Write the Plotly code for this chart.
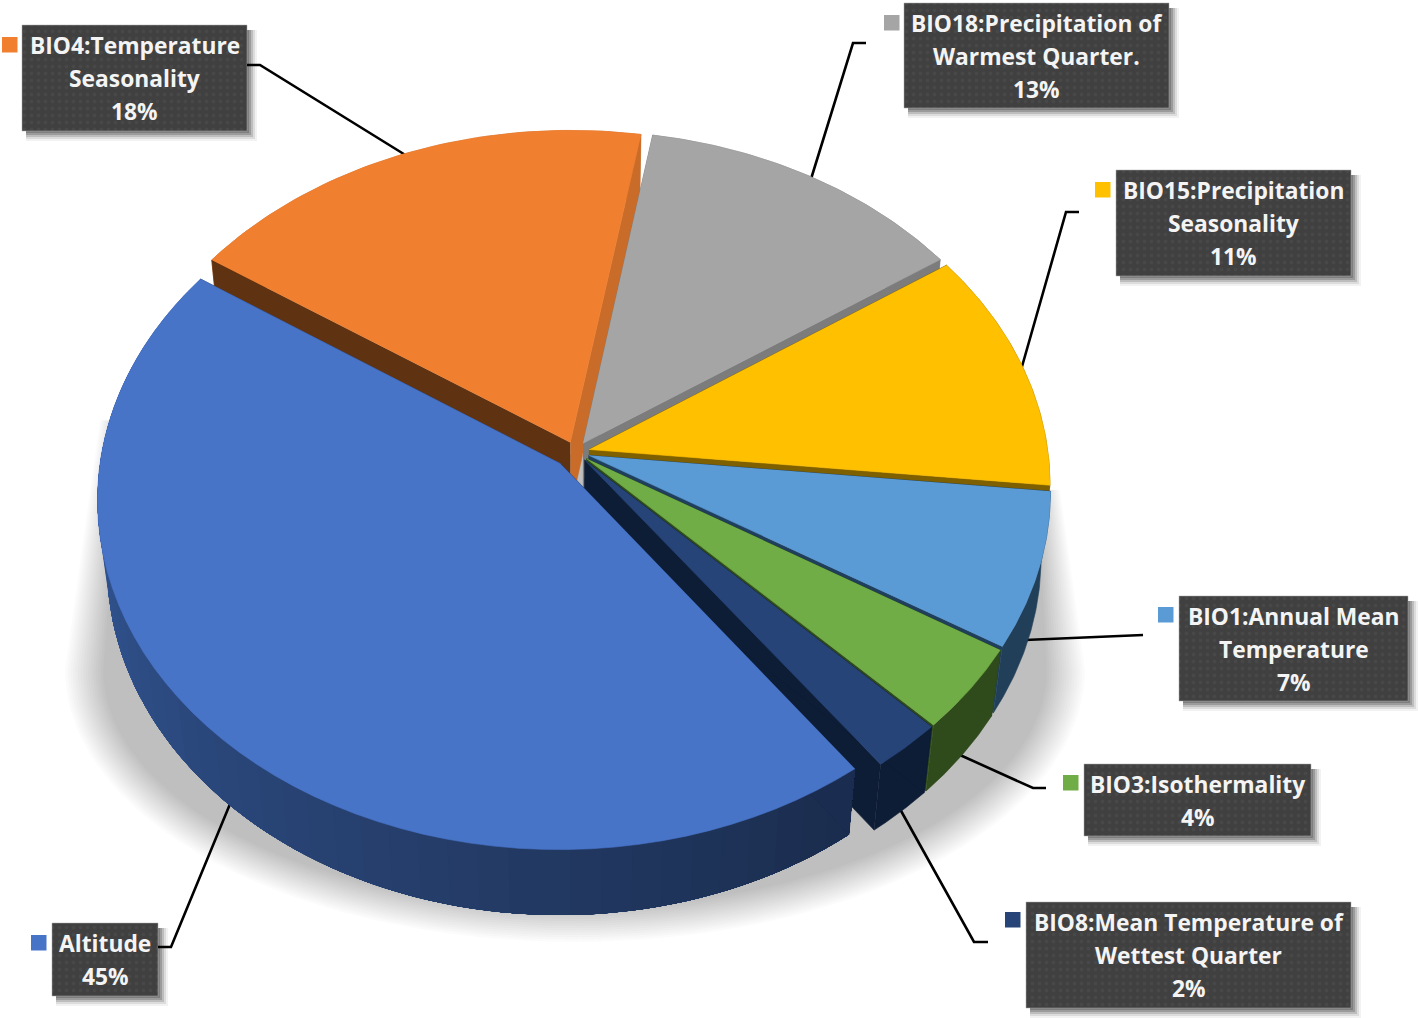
import numpy as np
import plotly.graph_objects as go

# ---- data (clockwise, beginning at the orange/grey boundary) ----
names = ["BIO18:Precipitation of<br>Warmest Quarter.", "BIO15:Precipitation<br>Seasonality",
         "BIO1:Annual Mean<br>Temperature", "BIO3:Isothermality",
         "BIO8:Mean Temperature of<br>Wettest Quarter", "Altitude", "BIO4:Temperature<br>Seasonality"]
values = [13, 11, 7, 4, 2, 45, 18]                         # printed percentages
shares = [12.75, 11.2, 7.14, 3.9, 2.28, 44.55, 18.21]      # slice sizes as measured before rounding
explode = [0.03, 0.03, 0.03, 0.03, 0.03, 0.047, 0.03]
top_colors = ["#A5A5A5", "#FFC000", "#5B9BD5", "#70AD47", "#264478", "#4874C8", "#F08030"]
rim_colors = ["#7C7C7C", "#7F6000", "#223F59", "#2F4A1B", "#0E1D36", None, "#C96C2A"]
low_wall = ["#7C7C7C", "#7F6000", "#1F3F5C", "#2F4A1B", "#0E1D36", "#1A2C50", "#C96C2A"]
high_wall = ["#7C7C7C", "#7F6000", "#1F3F5C", "#2F4A1B", "#0E1D36", "#1A2C50", "#5F3212"]
draw_order = [6, 0, 1, 2, 3, 4, 5]

# ---- label layout ----
boxes = [(904, 3, 1169, 108), (1116, 170, 1351, 276), (1179, 596, 1408, 701), (1084, 764, 1311, 836),
         (1026, 902, 1351, 1008), (52, 923, 158, 996), (22, 25, 247, 131)]
key_boxes = [(884, 15), (1095, 182), (1158, 607), (1063, 775), (1005, 912), (31, 935), (2, 37)]
leaders = [[(866, 43), (853, 43), (811, 179)], [(1079, 212), (1066, 212), (1021, 370)],
           [(1143, 635), (1025, 640)], [(1046, 788), (1033, 788), (960, 755)],
           [(988, 942), (974, 942), (900, 809)], [(158, 947), (171, 947), (230, 804)],
           [(247, 65), (260, 65), (407, 156)]]

# ---- projection of the tilted disc ----
CU, CV, F, FC, S, H, K = 575.6, 452.0, 459.0, 345.0, 0.0996, 68.0, 0.02
START = 80.3
LINE_STEP = 33


def project(X, Y, Z):
    w = 1 + S * Y + K * Z
    return CU + F * X / w, CV + (-FC * Y + H * Z) / w


fig = go.Figure()


def poly(xs, ys, color, width=0.6):
    fig.add_trace(go.Scatter(x=list(xs), y=list(ys), mode="lines", fill="toself", fillcolor=color,
                             line=dict(color=color, width=width), hoverinfo="skip", showlegend=False))


# label boxes: soft shadow to lower right, then dotted panel
for (x0, y0, x1, y1) in boxes:
    for off, alpha in ((10, 0.05), (8, 0.09), (6, 0.14), (4, 0.18), (2, 0.18)):
        xa, xb = x0 + 4, x1 + off
        ya, yb = y0 + 5, y1 + off
        fig.add_trace(go.Bar(x=[(xa + xb) / 2], y=[yb - ya], base=[ya], width=[xb - xa],
                             marker=dict(color=f"rgba(0,0,0,{alpha})", line=dict(width=0)),
                             hoverinfo="skip", showlegend=False))
    fig.add_trace(go.Bar(x=[(x0 + x1) / 2], y=[y1 - y0], base=[y0], width=[x1 - x0],
                         marker=dict(color="#404040", line=dict(color="#A8A8A8", width=0.5),
                                     pattern=dict(shape=".", fgcolor="#4F4F4F", bgcolor="#404040",
                                                  size=7, solidity=0.2)),
                         hoverinfo="skip", showlegend=False))

# floor shadow: stacked translucent outlines
for inset in np.linspace(0, 38, 16):
    t = np.radians(np.linspace(180, 360, 90))
    ex = 575 - (510 - inset) * np.cos(t - np.pi)
    ey = np.minimum(670 - (272 - inset * 0.9) * np.sin(t), 942)
    sx = np.concatenate([[100 + inset * 0.6], ex, [1060 - inset * 0.6]])
    sy = np.concatenate([[420], ey, [490]])
    poly(sx, sy, "rgba(0,0,0,0.0155)", width=0)

# leader lines sit beneath the pie
for pts in leaders:
    fig.add_trace(go.Scatter(x=[p[0] for p in pts], y=[p[1] for p in pts], mode="lines",
                             line=dict(color="#000000", width=2.6), hoverinfo="skip", showlegend=False))

# slice angles from the values
total = sum(shares)
spans = [v / total * 360 for v in shares]
ends = [START - sum(spans[:i]) for i in range(len(shares))]

for i in draw_order:
    a1 = ends[i]
    a0 = a1 - spans[i]
    b = np.radians((a0 + a1) / 2)
    ox, oy = explode[i] * np.cos(b), explode[i] * np.sin(b)
    angs = np.radians(np.linspace(a0, a1, 60))
    rx, ry = ox + np.cos(angs), oy + np.sin(angs)
    # outer rim
    if rim_colors[i] is not None:
        ux, uy = project(rx, ry, 0)
        lx, ly = project(rx, ry, 1)
        poly(np.r_[ux, lx[::-1]], np.r_[uy, ly[::-1]], rim_colors[i])
    else:
        # gradient: each band runs to the far end and the next paints over it, so no seams
        n = 46
        edges = np.linspace(a0, a1, n + 1)
        for j in range(n):
            seg = np.radians(np.linspace(edges[j], a1, max(4, 2 * (n - j))))
            sxp, syp = ox + np.cos(seg), oy + np.sin(seg)
            ux, uy = project(sxp, syp, 0)
            lx, ly = project(sxp, syp, 1)
            shade = 0.85 + (edges[j] - a0) / (a1 - a0) * (0.39 - 0.85)
            rgb = [int(c * shade) for c in (68, 114, 196)]
            poly(np.r_[ux, lx[::-1]], np.r_[uy, ly[::-1]], f"rgb({rgb[0]},{rgb[1]},{rgb[2]})", width=0)
    # radial cut walls
    for ang, col in ((a0, low_wall[i]), (a1, high_wall[i])):
        ex, ey = ox + np.cos(np.radians(ang)), oy + np.sin(np.radians(ang))
        p = [project(ox, oy, 0), project(ex, ey, 0), project(ex, ey, 1), project(ox, oy, 1)]
        poly([q[0] for q in p], [q[1] for q in p], col)
    # top face
    tx, ty = project(np.r_[ox, rx], np.r_[oy, ry], 0)
    poly(tx, ty, top_colors[i])

# labels and legend keys as real text and shapes
annotations, shapes = [], []
for i, name in enumerate(names):
    x0, y0, x1, y1 = boxes[i]
    rows = name.split("<br>") + [f"{values[i]}%"]
    for k, row in enumerate(rows):
        annotations.append(dict(x=(x0 + x1) / 2, y=(y0 + y1) / 2 + (k - (len(rows) - 1) / 2) * LINE_STEP + 0.5,
                                xref="x", yref="y", showarrow=False, text=row, align="center",
                                font=dict(family="Open Sans", size=22.8, color="#F4F4F4", weight=700)))
    kx, ky = key_boxes[i]
    shapes.append(dict(type="rect", x0=kx, x1=kx + 15.5, y0=ky, y1=ky + 15.5, xref="x", yref="y",
                       fillcolor=top_colors[i], line=dict(width=0)))

fig.update_layout(width=1418, height=1018, margin=dict(l=0, r=0, t=0, b=0), barmode="overlay",
                  paper_bgcolor="white", plot_bgcolor="white", showlegend=False,
                  xaxis=dict(range=[0, 1418], visible=False, fixedrange=True),
                  yaxis=dict(range=[1018, 0], visible=False, fixedrange=True),
                  annotations=annotations, shapes=shapes)
fig.write_html("out.html", config=dict(displayModeBar=False),
               post_script="document.body.style.margin='0';document.body.style.overflow='hidden';")
